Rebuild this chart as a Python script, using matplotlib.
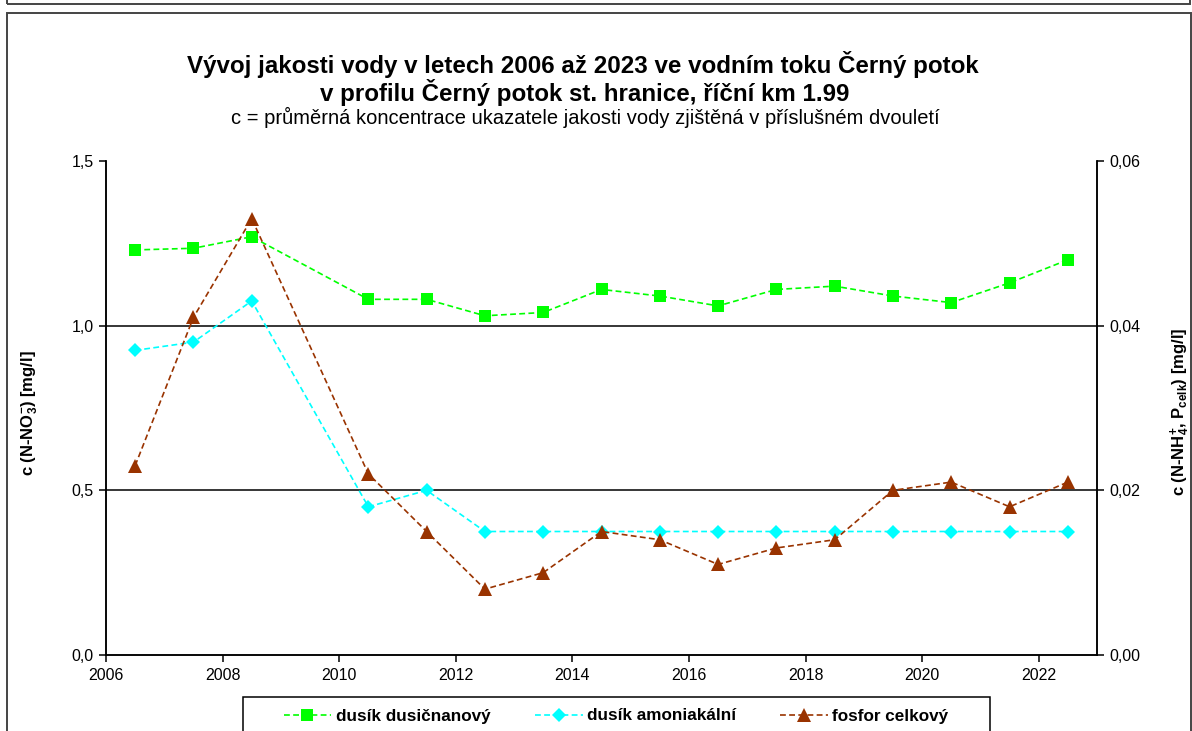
import matplotlib.pyplot as plt
from matplotlib.patches import Rectangle

plt.rcParams['font.family'] = ['Liberation Sans', 'DejaVu Sans']
plt.rcParams['mathtext.fontset'] = 'custom'
plt.rcParams['mathtext.rm'] = 'Liberation Sans'
plt.rcParams['mathtext.bf'] = 'Liberation Sans:bold'
plt.rcParams['mathtext.default'] = 'bf'

# values (two-year averages, plotted mid-period)
years = [2006.5, 2007.5, 2008.5, 2010.5, 2011.5, 2012.5, 2013.5, 2014.5,
         2015.5, 2016.5, 2017.5, 2018.5, 2019.5, 2020.5, 2021.5, 2022.5]
nitrate = [1.23, 1.235, 1.27, 1.08, 1.08, 1.03, 1.04, 1.11,
           1.09, 1.06, 1.11, 1.12, 1.09, 1.07, 1.13, 1.20]
ammonium = [0.037, 0.038, 0.043, 0.018, 0.020, 0.015, 0.015, 0.015,
            0.015, 0.015, 0.015, 0.015, 0.015, 0.015, 0.015, 0.015]
phosphorus = [0.023, 0.041, 0.053, 0.022, 0.015, 0.008, 0.010, 0.015,
              0.014, 0.011, 0.013, 0.014, 0.020, 0.021, 0.018, 0.021]

x_ticks = [2006, 2008, 2010, 2012, 2014, 2016, 2018, 2020, 2022]
left_ticks = [0.0, 0.5, 1.0, 1.5]
right_ticks = [0.0, 0.02, 0.04, 0.06]
left_labels = ['%.1f' % v for v in left_ticks]
right_labels = ['%.2f' % v for v in right_ticks]
left_labels = [s.replace('.', ',') for s in left_labels]
right_labels = [s.replace('.', ',') for s in right_labels]

W, H = 1192, 731
fig = plt.figure(figsize=(W / 100, H / 100), dpi=100)

def fx(px):
    return px / W

def fy(py):
    return 1 - py / H

# outer frames
fig.patches.append(Rectangle((fx(7), fy(4)), fx(1183), 0.1, transform=fig.transFigure,
                             fill=False, edgecolor='#444444', linewidth=1.4))
fig.patches.append(Rectangle((fx(7), fy(760)), fx(1183.5), fy(13) - fy(760),
                             transform=fig.transFigure, fill=False,
                             edgecolor='#444444', linewidth=1.4))

ax = fig.add_axes([fx(106), fy(655), fx(1097) - fx(106), fy(161) - fy(655)])
ax2 = ax.twinx()

ls = (0, (3.5, 2))
l1, = ax.plot(years, nitrate, color='#00FF00', linestyle=ls, linewidth=1.2,
              marker='s', markersize=8, markeredgewidth=0, label='dusík dusičnanový')
l2, = ax2.plot(years, ammonium, color='#00FFFF', linestyle=ls, linewidth=1.2,
               marker='D', markersize=7, markeredgewidth=0, label='dusík amoniakální')
l3, = ax2.plot(years, phosphorus, color='#993300', linestyle=ls, linewidth=1.2,
               marker='^', markersize=9.5, markeredgewidth=0, label='fosfor celkový')

for v in [0.5, 1.0]:
    ax.axhline(v, color='black', linewidth=1.1, zorder=0)

ax.set_xlim(2006, 2023)
ax.set_ylim(0, 1.5)
ax2.set_ylim(0, 0.06)
ax.set_xticks(x_ticks)
ax.set_xticklabels([str(v) for v in x_ticks], fontsize=11.5)
ax.set_yticks(left_ticks)
ax.set_yticklabels(left_labels, fontsize=11.5)
ax2.set_yticks(right_ticks)
ax2.set_yticklabels(right_labels, fontsize=11.5)

for a in (ax, ax2):
    a.spines['top'].set_visible(False)
    for s in a.spines.values():
        s.set_linewidth(1.1)
    a.tick_params(direction='out', length=5, width=1.1, pad=4)

# titles
fig.text(fx(583), fy(65), 'Vývoj jakosti vody v letech 2006 až 2023 ve vodním toku Černý potok',
         ha='center', va='center', fontsize=17.4, fontweight='bold')
fig.text(fx(585), fy(92), 'v profilu Černý potok st. hranice, říční km 1.99',
         ha='center', va='center', fontsize=17.4, fontweight='bold')
fig.text(fx(585), fy(117), 'c = průměrná koncentrace ukazatele jakosti vody zjištěná v příslušném dvouletí',
         ha='center', va='center', fontsize=14.5)

# axis labels
fig.text(fx(30), fy(413), r'c (N-NO$_3^{-}$) [mg/l]', rotation=90,
         ha='center', va='center', fontsize=12, fontweight='bold')
fig.text(fx(1180), fy(412), r'c (N-NH$_4^{+}$, P$_{celk}$) [mg/l]', rotation=90,
         ha='center', va='center', fontsize=12, fontweight='bold')

# legend with its own frame
fig.patches.append(Rectangle((fx(243), fy(760)), fx(990) - fx(243), fy(697) - fy(760),
                             transform=fig.transFigure, fill=False,
                             edgecolor='black', linewidth=1.1))
fig.legend([l1, l2, l3], [l1.get_label(), l2.get_label(), l3.get_label()],
           loc='center', bbox_to_anchor=(fx(616), fy(716)), ncol=3, frameon=False,
           prop={'weight': 'bold', 'size': 12.3}, handlelength=2.8, handletextpad=0.25,
           columnspacing=2.6, numpoints=1)

fig.savefig('out.png', dpi=100)
